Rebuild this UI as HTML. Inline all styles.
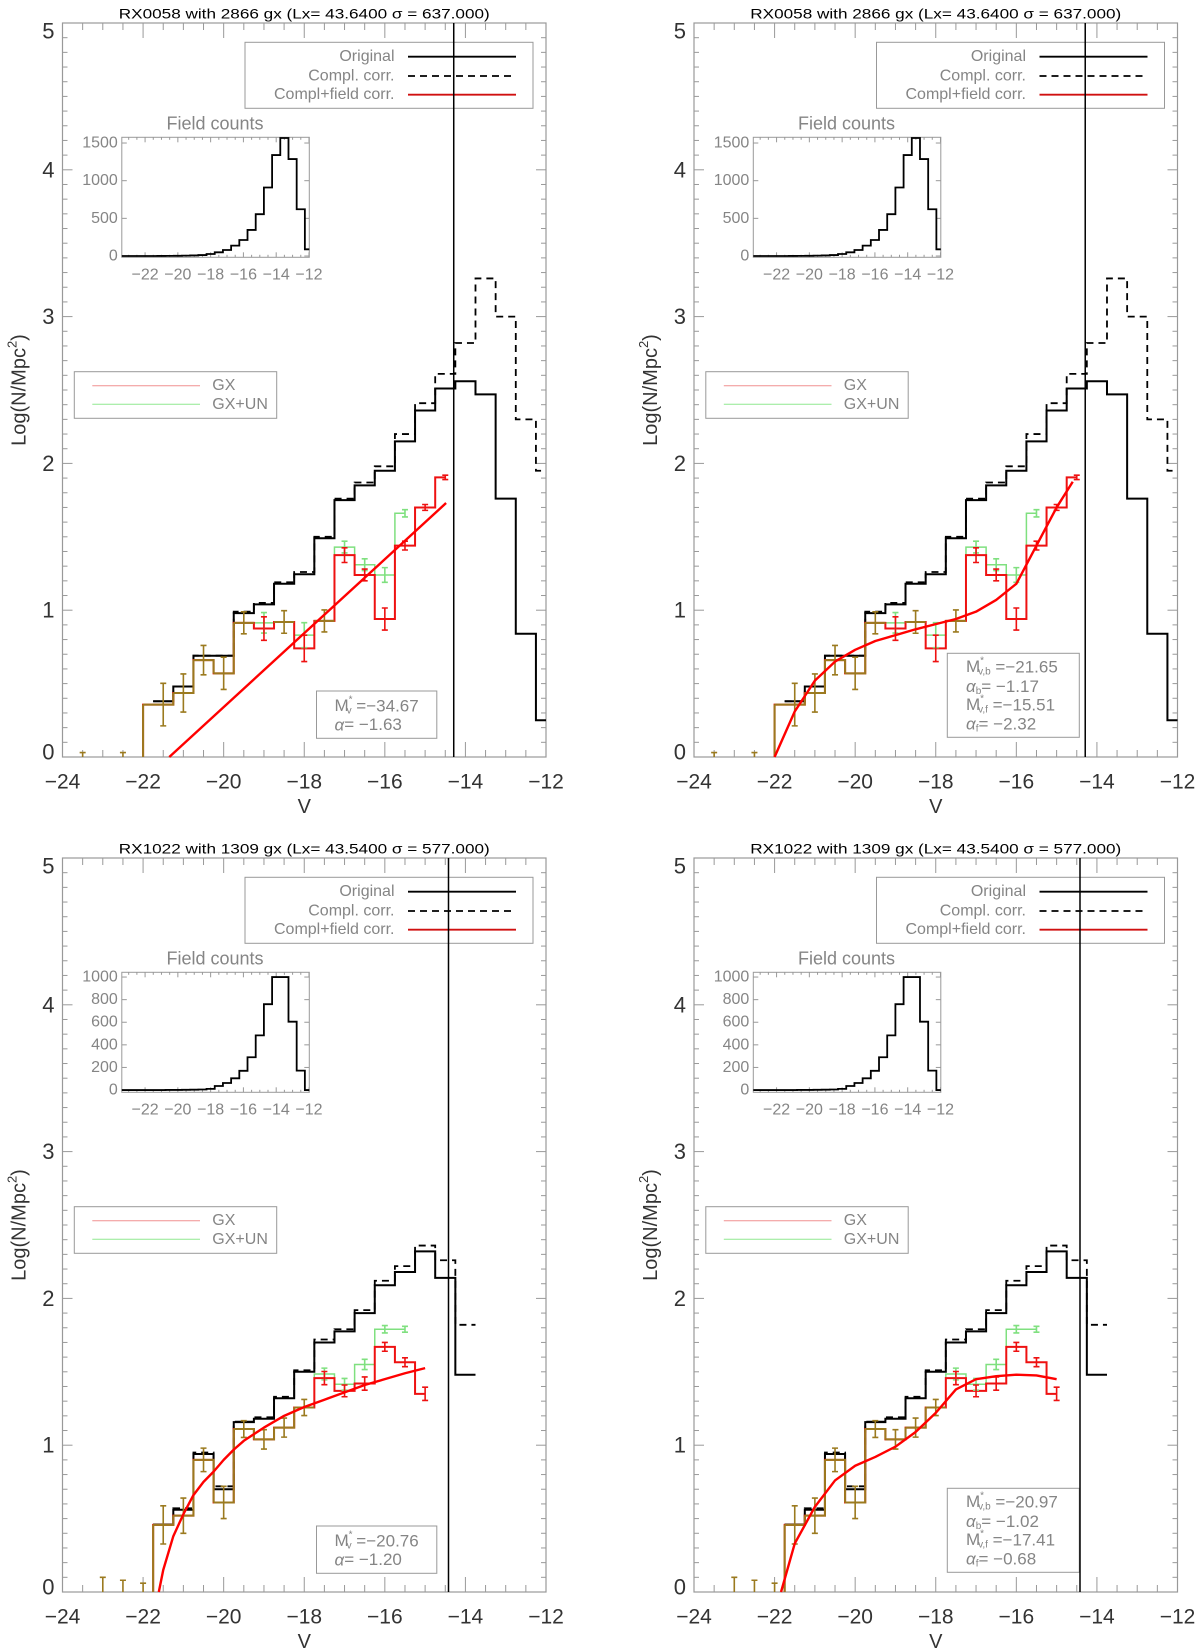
<!DOCTYPE html>
<html>
<head>
<meta charset="utf-8">
<style>
  html,body{margin:0;padding:0;background:#fff;}
  svg{display:block;font-family:"Liberation Sans",sans-serif;}
</style>
</head>
<body>
<svg id="chart" width="1200" height="1652" viewBox="0 0 1200 1652" xmlns="http://www.w3.org/2000/svg">
  <rect x="0" y="0" width="1200" height="1652" fill="#fff"/>
</svg>
<script>
// ---------------- DATA ----------------
const topOrigCenters = [-21.5,-21,-20.5,-20,-19.5,-19,-18.5,-18,-17.5,-17,-16.5,-16,-15.5,-15,-14.5,-14,-13.5,-13,-12.5,-12];
const topOrigValues  = [0.38,0.48,0.69,0.69,0.98,1.04,1.18,1.245,1.49,1.75,1.85,1.95,2.15,2.36,2.51,2.56,2.47,1.76,0.84,0.25];
const topComplValues = [0.38,0.48,0.69,0.69,0.99,1.05,1.19,1.26,1.50,1.76,1.87,1.98,2.20,2.41,2.61,2.82,3.26,3.00,2.30,1.95];
const topGxCenters   = [-21.5,-21,-20.5,-20,-19.5,-19,-18.5,-18,-17.5,-17,-16.5,-16,-15.5,-15,-14.5];
const topGxValues    = [0.357,0.436,0.66,0.57,0.914,0.875,0.92,0.74,0.927,1.375,1.24,0.94,1.44,1.70,1.905];
const topGxErrors    = [0.145,0.13,0.10,0.11,0.075,0.08,0.077,0.09,0.075,0.05,0.04,0.075,0.03,0.02,0.015];
const topGxUnCenters = [-21.5,-21,-20.5,-20,-19.5,-19,-18.5,-18,-17.5,-17,-16.5,-16,-15.5];
const topGxUnValues  = [0.357,0.436,0.66,0.57,0.914,0.914,0.92,0.83,0.927,1.43,1.31,1.24,1.66];
const topGxUnErrors  = [0.145,0.13,0.10,0.11,0.075,0.07,0.077,0.085,0.075,0.04,0.04,0.05,0.025];
const topZeroV       = [-23.5,-22.5];
const topZeroErr     = [0.03,0.03];

const botOrigCenters = [-21.5,-21,-20.5,-20,-19.5,-19,-18.5,-18,-17.5,-17,-16.5,-16,-15.5,-15,-14.5,-14];
const botOrigValues  = [0.46,0.56,0.94,0.70,1.157,1.18,1.32,1.50,1.70,1.775,1.90,2.09,2.18,2.32,2.14,1.48];
const botComplValues = [0.46,0.57,0.95,0.72,1.16,1.19,1.33,1.51,1.72,1.79,1.92,2.12,2.22,2.36,2.26,1.82];
const botGxCenters   = [-21.5,-21,-20.5,-20,-19.5,-19,-18.5,-18,-17.5,-17,-16.5,-16,-15.5,-15];
const botGxValues    = [0.457,0.52,0.90,0.61,1.11,1.04,1.12,1.257,1.457,1.37,1.42,1.67,1.565,1.35];
const botGxErrors    = [0.13,0.12,0.08,0.11,0.057,0.066,0.065,0.055,0.045,0.04,0.045,0.03,0.03,0.045];
const botGxUnCenters = [-21.5,-21,-20.5,-20,-19.5,-19,-18.5,-18,-17.5,-17,-16.5,-16,-15.5];
const botGxUnValues  = [0.457,0.52,0.90,0.61,1.11,1.04,1.12,1.257,1.485,1.415,1.55,1.79,1.79];
const botGxUnErrors  = [0.13,0.12,0.08,0.11,0.057,0.066,0.065,0.055,0.04,0.04,0.035,0.025,0.02];
const botZeroV       = [-23,-22.5,-22];
const botZeroErr     = [0.10,0.08,0.06];

const fitTopSingleV  = [-21.35,-14.48];
const fitTopSingleY  = [0,1.73];
const fitTopDoubleV  = [-22.0,-21.5,-21.0,-20.5,-20.0,-19.5,-19.0,-18.5,-18.0,-17.5,-17.0,-16.5,-16.0,-15.5,-15.0,-14.6];
const fitTopDoubleY  = [0,0.31,0.52,0.65,0.73,0.79,0.83,0.87,0.905,0.94,0.99,1.07,1.18,1.44,1.70,1.875];
const fitBotSingleV  = [-21.61,-21.5,-21.25,-21.0,-20.75,-20.5,-20.25,-20.0,-19.75,-19.5,-19.0,-18.5,-18.0,-17.5,-17.0,-16.5,-16.0,-15.5,-15.0];
const fitBotSingleY  = [0,0.15,0.38,0.53,0.66,0.75,0.82,0.9,0.97,1.03,1.12,1.2,1.26,1.31,1.36,1.41,1.45,1.49,1.525];
const fitBotDoubleV  = [-21.84,-21.5,-21.0,-20.5,-20.0,-19.5,-19.0,-18.5,-18.0,-17.5,-17.0,-16.5,-16.0,-15.5,-15.0];
const fitBotDoubleY  = [0,0.33,0.58,0.76,0.86,0.92,0.99,1.09,1.22,1.38,1.45,1.47,1.48,1.475,1.45];

const insetCenters   = [-23,-22.5,-22,-21.5,-21,-20.5,-20,-19.5,-19,-18.5,-18,-17.5,-17,-16.5,-16,-15.5,-15,-14.5,-14,-13.5,-13,-12.5,-12];
const insetTopValues = [0,0,0,0,1,2,3,5,8,13,27,49,80,138,213,346,555,910,1340,1567,1287,621,89];
const insetBotValues = [0,0,0,0,0,1,1,2,3,5,10,36,62,104,170,290,484,760,1000,1000,605,172,0];
const insetTopTicks  = [0,500,1000,1500];
const insetBotTicks  = [0,200,400,600,800,1000];
const insetXTicks    = [-22,-20,-18,-16,-14,-12];

const mainXTicks = [-24,-22,-20,-18,-16,-14,-12];
const mainYTicks = [0,1,2,3,4,5];

const completenessLimitTop = -14.29;
const completenessLimitBot = -14.42;

// ---------------- DRAWING ----------------
const NS = 'http://www.w3.org/2000/svg';
const svg = document.getElementById('chart');
function mk(tag, attrs, parent){
  const e = document.createElementNS(NS, tag);
  for (const k in attrs) e.setAttribute(k, attrs[k]);
  (parent || svg).appendChild(e);
  return e;
}
const W = 483.5, H = 734;
const BROWN = '#9b7a1f', RED = '#ee1111', GREEN = '#7fe07f', FRAME = '#999', TXT = '#333', LG = '#858585';

const sets = {
  top: {title:'RX0058  with  2866 gx (Lx= 43.6400 σ = 637.000)', oc:topOrigCenters, ov:topOrigValues, cv:topComplValues,
        gc:topGxCenters, gv:topGxValues, ge:topGxErrors, uc:topGxUnCenters, uv:topGxUnValues, ue:topGxUnErrors,
        zv:topZeroV, ze:topZeroErr, firstEdge:-22.0, origLastFull:false, vline:completenessLimitTop,
        iv:insetTopValues, it:insetTopTicks, iymin:-17, iymax:1576},
  bot: {title:'RX1022  with  1309 gx (Lx= 43.5400 σ = 577.000)', oc:botOrigCenters, ov:botOrigValues, cv:botComplValues,
        gc:botGxCenters, gv:botGxValues, ge:botGxErrors, uc:botGxUnCenters, uv:botGxUnValues, ue:botGxUnErrors,
        zv:botZeroV, ze:botZeroErr, firstEdge:-21.75, origLastFull:true, vline:completenessLimitBot,
        iv:insetBotValues, it:insetBotTicks, iymin:-20, iymax:1042}
};
const panels = [
  {left:62.5, top:23,  set:'top', fit:'single', fv:fitTopSingleV, fy:fitTopSingleY, txt:['M','v','=−34.67','−1.63']},
  {left:694,  top:23,  set:'top', fit:'double', fv:fitTopDoubleV, fy:fitTopDoubleY, txt:['−21.65','−1.17','−15.51','−2.32']},
  {left:62.5, top:858, set:'bot', fit:'single', fv:fitBotSingleV, fy:fitBotSingleY, txt:['M','v','=−20.76','−1.20']},
  {left:694,  top:858, set:'bot', fit:'double', fv:fitBotDoubleV, fy:fitBotDoubleY, txt:['−20.97','−1.02','−17.41','−0.68']}
];

function fmt(v){ return v < 0 ? '−' + Math.abs(v) : String(v); }

panels.forEach((p, pi) => {
  const S = sets[p.set];
  const sx = v => p.left + (v + 24) / 12 * W;
  const sy = y => p.top + H - y / 5 * H;
  const g = mk('g', {});
  
  

  const t = mk('text', {x: p.left + W/2, y: p.top - 9.7, 'text-anchor':'middle', 'dominant-baseline':'central', 'font-size':14, fill:'#000', 'xml:space':'preserve', textLength:371, lengthAdjust:'spacingAndGlyphs'}, g);
  t.textContent = S.title;
  
  

  const fr = mk('rect', {x:p.left, y:p.top, width:W, height:H, fill:'none', stroke:FRAME, 'stroke-width':1.2}, g);
  
  

  const tk = mk('g', {stroke:FRAME, 'stroke-width':1}, g);
  
  
  for (let i = 0; i <= 24; i++) {
    const v = -24 + i * 0.5, x = sx(v), L = (i % 4 === 0) ? 15 : 7;
    mk('line', {x1:x, y1:p.top+H, x2:x, y2:p.top+H-L}, tk);
    mk('line', {x1:x, y1:p.top, x2:x, y2:p.top+L}, tk);
  }
  for (let i = 0; i <= 50; i++) {
    const y = sy(i * 0.1), L = (i % 10 === 0) ? 10 : 5;
    mk('line', {x1:p.left, y1:y, x2:p.left+L, y2:y}, tk);
    mk('line', {x1:p.left+W, y1:y, x2:p.left+W-L, y2:y}, tk);
  }
  mainXTicks.forEach(v => {
    const e = mk('text', {x:sx(v), y:p.top+H+25, 'text-anchor':'middle', 'dominant-baseline':'central', 'font-size':21, fill:TXT}, g);
    e.textContent = fmt(v);
    
    
  });
  mainYTicks.forEach(v => {
    const e = mk('text', {x:p.left-8, y:sy(v) - (v === 0 ? 5 : 0) + (v === 5 ? 8 : 0), 'text-anchor':'end', 'dominant-baseline':'central', 'font-size':22, fill:TXT}, g);
    e.textContent = String(v);
    
    
  });
  const xl = mk('text', {x:p.left+W/2, y:p.top+784, 'text-anchor':'middle', 'dominant-baseline':'central', 'font-size':20, fill:TXT}, g);
  xl.textContent = 'V';
  
  
  const yl = mk('text', {x:0, y:0, transform:`translate(${p.left-43},${p.top+367}) rotate(-90)`, 'text-anchor':'middle', 'dominant-baseline':'central', 'font-size':20, fill:TXT}, g);
  yl.innerHTML = 'Log(N/Mpc<tspan baseline-shift="super" font-size="13">2</tspan>)';
  
  

  const ig = mk('g', {}, g);
  
  
  const iL = p.left + 59.3, iR = p.left + 246.8, iT = p.top + 114.3, iB = p.top + 234.3;
  const ix = v => iL + (v + 23.42) / 11.44 * (iR - iL);
  const iy = c => iB - (c - S.iymin) / (S.iymax - S.iymin) * (iB - iT);
  const ib = mk('rect', {x:iL, y:iT, width:iR-iL, height:iB-iT, fill:'none', stroke:FRAME, 'stroke-width':1}, ig);
  
  
  for (let i = 0; i <= 22; i++) {
    const v = -23 + i * 0.5, x = ix(v), L = (Math.abs(v % 2) < 1e-6) ? 5 : 2.5;
    mk('line', {x1:x, y1:iB, x2:x, y2:iB-L, stroke:FRAME}, ig);
    mk('line', {x1:x, y1:iT, x2:x, y2:iT+L, stroke:FRAME}, ig);
  }
  S.it.forEach(c => {
    mk('line', {x1:iL, y1:iy(c), x2:iL+5, y2:iy(c), stroke:FRAME}, ig);
    mk('line', {x1:iR, y1:iy(c), x2:iR-5, y2:iy(c), stroke:FRAME}, ig);
    const e = mk('text', {x:iL-4, y:iy(c), 'text-anchor':'end', 'dominant-baseline':'central', 'font-size':16, fill:LG}, ig);
    e.textContent = String(c);
    
    
  });
  insetXTicks.forEach(v => {
    const e = mk('text', {x:ix(v), y:p.top+252, 'text-anchor':'middle', 'dominant-baseline':'central', 'font-size':16, fill:LG}, ig);
    e.textContent = fmt(v);
    
    
  });
  const it = mk('text', {x:p.left+152.5, y:p.top+100.3, 'text-anchor':'middle', 'dominant-baseline':'central', 'font-size':18, fill:LG}, ig);
  it.textContent = 'Field counts';
  
  
  let d = `M${ix(-23.42)},${iy(0)}`;
  insetCenters.forEach((c, i) => {
    const l = c - 0.25, r = (i === insetCenters.length - 1) ? -11.98 : c + 0.25;
    d += ` L${ix(l)},${iy(S.iv[i])} L${ix(r)},${iy(S.iv[i])}`;
  });
  const ih = mk('path', {d, fill:'none', stroke:'#000', 'stroke-width':1.8}, ig);
  
  

  const lg = mk('g', {}, g);
  
  
  mk('rect', {x:p.left+182.5, y:p.top+19.3, width:288, height:66, fill:'#fff', stroke:FRAME, 'stroke-width':1}, lg);
  const labs = ['Original','Compl. corr.','Compl+field corr.'];
  const rows = [33.7, 53, 71.7];
  labs.forEach((s, i) => {
    const e = mk('text', {x:p.left+332, y:p.top+rows[i], 'text-anchor':'end', 'dominant-baseline':'central', 'font-size':16, fill:LG}, lg);
    e.textContent = s;
    
    
    const ln = mk('line', {x1:p.left+345.5, y1:p.top+rows[i], x2:p.left+453.5, y2:p.top+rows[i], stroke: i === 2 ? '#d01010' : '#000', 'stroke-width':1.8}, lg);
    if (i === 1) ln.setAttribute('stroke-dasharray', '7,5');
    
    
  });

  const lg2 = mk('g', {}, g);
  
  
  mk('rect', {x:p.left+11.8, y:p.top+348.7, width:202.4, height:46.6, fill:'#fff', stroke:FRAME, 'stroke-width':1}, lg2);
  [['GX','#f09090',362.7],['GX+UN','#90e890',381.3]].forEach(([s, c, yy]) => {
    const ln = mk('line', {x1:p.left+29.8, y1:p.top+yy, x2:p.left+137.5, y2:p.top+yy, stroke:c, 'stroke-width':1}, lg2);
    
    
    const e = mk('text', {x:p.left+149.8, y:p.top+yy, 'dominant-baseline':'central', 'font-size':16, fill:LG}, lg2);
    e.textContent = s;
    
    
  });

  const fb = mk('g', {}, g);
  
  
  if (p.fit === 'single') {
    mk('rect', {x:p.left+254, y:p.top+668, width:120.3, height:47.3, fill:'#fff', stroke:FRAME, 'stroke-width':1}, fb);
    const a = mk('text', {x:p.left+272, y:p.top+682.7, 'dominant-baseline':'central', 'font-size':17, fill:LG}, fb);
    a.innerHTML = `M<tspan font-size="10" dy="-6">*</tspan><tspan font-size="10" dx="-6" dy="11">v</tspan><tspan dy="-5"> ${p.txt[2]}</tspan>`;
    
    
    const b = mk('text', {x:p.left+272, y:p.top+701.3, 'dominant-baseline':'central', 'font-size':17, fill:LG}, fb);
    b.innerHTML = `<tspan font-style="italic">α</tspan>=  ${p.txt[3]}`;
    
    
  } else {
    mk('rect', {x:p.left+253.3, y:p.top+630.3, width:132, height:84, fill:'#fff', stroke:FRAME, 'stroke-width':1}, fb);
    const rowsF = [643.7, 663, 681.7, 700.3];
    const subs = ['v,b','b','v,f','f'];
    rowsF.forEach((yy, i) => {
      const e = mk('text', {x:p.left+272, y:p.top+yy, 'dominant-baseline':'central', 'font-size':17, fill:LG}, fb);
      if (i % 2 === 0) e.innerHTML = `M<tspan font-size="10" dy="-6">*</tspan><tspan font-size="10" dx="-6" dy="11">${subs[i]}</tspan><tspan dy="-5"> =${p.txt[i]}</tspan>`;
      else e.innerHTML = `<tspan font-style="italic">α</tspan><tspan font-size="10" dy="5">${subs[i]}</tspan><tspan dy="-5">=  ${p.txt[i]}</tspan>`;
      
      
    });
  }

  function stepD(cent, vals, firstEdge, fromZero, lastFull) {
    let s = fromZero ? `M${sx(firstEdge)},${sy(0)} L${sx(firstEdge)},${sy(vals[0])}` : `M${sx(firstEdge)},${sy(vals[0])}`;
    cent.forEach((c, i) => {
      const r = (i === cent.length - 1) ? (lastFull ? c + 0.25 : c) : c + 0.25;
      s += ` L${sx(r)},${sy(vals[i])}`;
      if (i < cent.length - 1) s += ` L${sx(r)},${sy(vals[i+1])}`;
    });
    return s;
  }
  const hd = mk('path', {d:stepD(S.oc, S.cv, S.oc[0]-0.25, false, S.origLastFull), fill:'none', stroke:'#000', 'stroke-width':1.8, 'stroke-dasharray':'7,5'}, g);
  
  
  const ho = mk('path', {d:stepD(S.oc, S.ov, S.oc[0]-0.25, false, S.origLastFull), fill:'none', stroke:'#000', 'stroke-width':2}, g);
  
  
  const hu = mk('path', {d:stepD(S.uc, S.uv, S.firstEdge, true, false), fill:'none', stroke:GREEN, 'stroke-width':1.5}, g);
  
  
  const hg = mk('path', {d:stepD(S.gc, S.gv, S.firstEdge, true, false), fill:'none', stroke:RED, 'stroke-width':2}, g);
  
  
  let bd = `M${sx(S.firstEdge)},${sy(0)} L${sx(S.firstEdge)},${sy(S.gv[0])}`;
  S.gc.forEach((c, i) => {
    if (i >= S.uv.length || S.uv[i] !== S.gv[i]) return;
    const l = (i === 0) ? S.firstEdge : c - 0.25;
    const r = (i === S.gc.length - 1) ? c : c + 0.25;
    bd += ` M${sx(l)},${sy(S.gv[i])} L${sx(r)},${sy(S.gv[i])}`;
    if (i + 1 < S.gc.length && i + 1 < S.uv.length && S.uv[i+1] === S.gv[i+1]) bd += ` L${sx(r)},${sy(S.gv[i+1])}`;
  });
  const hb = mk('path', {d:bd, fill:'none', stroke:BROWN, 'stroke-width':2}, g);
  
  

  function errBar(c, v, e, col, name) {
    const x = sx(c);
    const eb = mk('path', {d:`M${x},${sy(v-e)} L${x},${sy(v+e)} M${x-3},${sy(v-e)} L${x+3},${sy(v-e)} M${x-3},${sy(v+e)} L${x+3},${sy(v+e)}`, fill:'none', stroke:col, 'stroke-width':1.6}, g);
    
    
  }
  S.uc.forEach((c, i) => {
    const same = i < S.gv.length && S.gv[i] === S.uv[i];
    if (!same) errBar(c, S.uv[i], S.ue[i], GREEN, 'gx-un-error-bar');
  });
  S.gc.forEach((c, i) => {
    const same = i < S.uv.length && S.gv[i] === S.uv[i];
    errBar(c, S.gv[i], S.ge[i], same ? BROWN : RED, 'gx-error-bar');
  });
  S.zv.forEach((c, i) => {
    const x = sx(c);
    const eb = mk('path', {d:`M${x},${sy(0)} L${x},${sy(S.ze[i])} M${x-3},${sy(S.ze[i])} L${x+3},${sy(S.ze[i])}`, fill:'none', stroke:BROWN, 'stroke-width':1.6}, g);
    
    
  });

  const pts = p.fv.map((v, i) => `${sx(v)},${sy(p.fy[i])}`).join(' ');
  const fc = mk('polyline', {points:pts, fill:'none', stroke:'#f00', 'stroke-width':2.4, 'stroke-linejoin':'round'}, g);
  
  

  const vl = mk('line', {x1:sx(S.vline), y1:p.top, x2:sx(S.vline), y2:p.top+H, stroke:'#000', 'stroke-width':1.5}, g);
  
  
});
</script>
</body>
</html>
